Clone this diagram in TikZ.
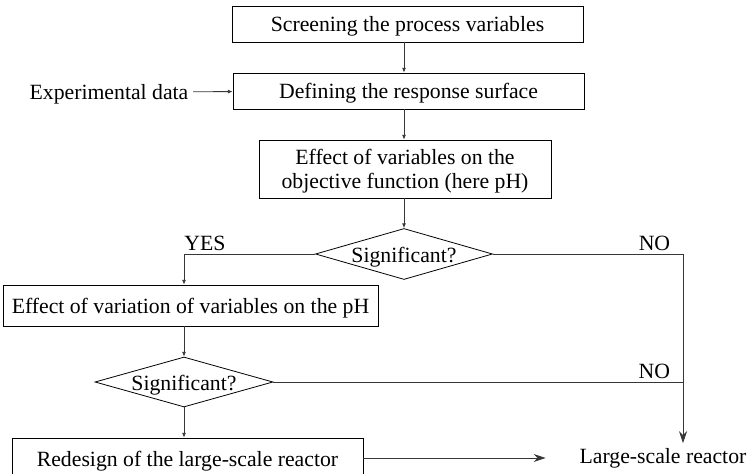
\documentclass[tikz,border=0pt]{standalone}
\usepackage{fontspec}
\setmainfont{Liberation Serif}
\usetikzlibrary{
  arrows.meta,
  shapes.geometric
}
\definecolor{FlowGray}{RGB}{55,55,55}
\tikzset{
  flowbox/.style={draw=black,line width=0.6pt,align=center,inner sep=2pt},
  stepnode/.style={flowbox,minimum width=263.25pt,minimum height=27pt,text height=12pt,text depth=0pt},
  decision/.style={draw=black,line width=0.6pt,diamond,aspect=3.5,inner sep=0pt,minimum width=132.75pt,minimum height=38.25pt,text height=12pt,text depth=0pt},
  flow/.style={-{Latex[length=3.5pt,width=3pt]},line width=0.6pt,draw=FlowGray},
  endflow/.style={-{Stealth[length=9pt,width=6pt]},line width=0.6pt,draw=FlowGray},
  plainline/.style={line width=0.6pt,draw=FlowGray},
  answer/.style={inner sep=2pt}
}

\begin{document}
\begin{tikzpicture}[x=0.75pt,y=-0.75pt,font=\fontsize{16.3}{17.5}\selectfont]
\useasboundingbox (0,0) rectangle (753,474);

\node[stepnode] (screen) at (407.5,24) {Screening the process variables};
\node[stepnode] (define) at (408.5,91) {Defining the response surface};
\node[text height=12pt,text depth=0pt] (expdata) at (109,92) {Experimental data};
\node[flowbox,minimum width=219pt,minimum height=43.5pt,text depth=0pt] (effect) at (405,169) {Effect of variables on the\\objective function (here pH)};
\node[decision] (sigA) at (404,254) {Significant?};
\node[stepnode,minimum width=281.25pt,minimum height=30.75pt] (varpH) at (190.5,305.5) {Effect of variation of variables on the pH};
\node[decision,minimum width=133.5pt,minimum height=37.5pt] (sigB) at (184,382) {Significant?};
\node[stepnode,minimum height=30pt] (redesign) at (187.5,458) {Redesign of the large-scale reactor};
\node[anchor=base] (large) at (663,463) {Large-scale reactor};
\coordinate (turn) at (683,254);

\draw[flow] (screen.south -| sigA) -- (define.north -| sigA);
\draw[flow] (expdata) -- (define);
\draw[flow] (define.south -| sigA) -- (effect.north -| sigA);
\draw[flow] (effect.south -| sigA) -- (sigA);
\draw[flow] (sigA.west) -| node[pos=0.42,above,answer]{YES} (varpH.north -| sigB);
\draw[flow] (varpH.south -| sigB) -- (sigB);
\draw[flow] (sigB) -- (redesign.north -| sigB);

\draw[plainline] (sigA.east) -- node[pos=0.85,above,answer]{NO} (turn);
\draw[plainline] (sigB.east) -- node[pos=0.93,above,answer]{NO} (sigB.east -| turn);
\draw[endflow] (turn) -- (turn |- large.north);
\draw[endflow,shorten >=22pt] (redesign.east) -- (redesign.east -| large.west);
\end{tikzpicture}
\end{document}
